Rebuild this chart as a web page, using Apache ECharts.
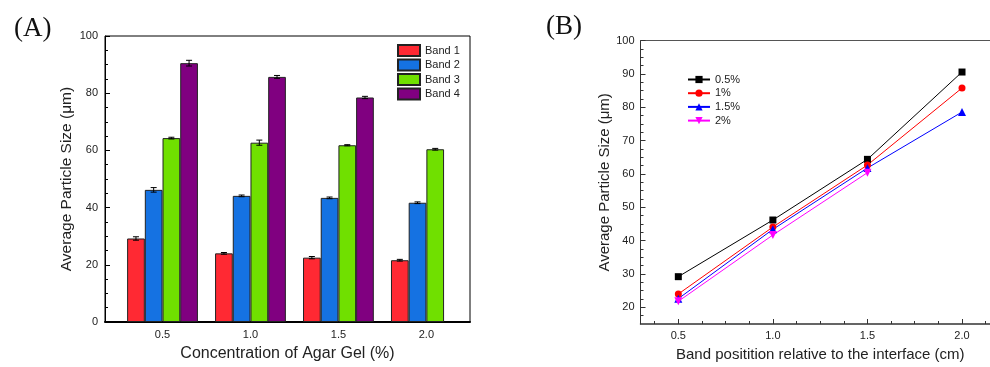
<!DOCTYPE html>
<html>
<head>
<meta charset="utf-8">
<script src="https://cdn.jsdelivr.net/npm/echarts@6/dist/echarts.min.js"></script>
<style>
html,body{margin:0;padding:0;background:#fff;}
#chart{width:990px;height:367px;}
</style>
</head>
<body>
<div id="chart"></div>
<script>
// ---- Data: panel (A) ----
const concentrations = [0.5, 1.0, 1.5, 2.0];
const bandNames = ['Band 1', 'Band 2', 'Band 3', 'Band 4'];
const band1 = [29.2, 24.0, 22.5, 21.6];
const band2 = [46.2, 44.1, 43.4, 41.7];
const band3 = [64.3, 62.7, 61.8, 60.4];
const band4 = [90.5, 85.7, 78.5];
const band1Err = [0.6, 0.3, 0.4, 0.3];
const band2Err = [0.8, 0.3, 0.3, 0.3];
const band3Err = [0.3, 0.9, 0.2, 0.3];
const band4Err = [1.0, 0.5, 0.4];

// ---- Data: panel (B) ----
const positions = [0.5, 1.0, 1.5, 2.0];
const concNames = ['0.5%', '1%', '1.5%', '2%'];
const conc05 = [29.2, 46.2, 64.4, 90.6];
const conc1 = [24.0, 44.1, 62.7, 85.8];
const conc15 = [22.6, 43.4, 61.8, 78.6];
const conc2 = [21.8, 41.7, 60.4];

// ---- Tick labels ----
const xLabelsA = [0.5, 1.0, 1.5, 2.0];
const xLabelsB = [0.5, 1.0, 1.5, 2.0];
const yLabelsB = [20, 30, 40, 50, 60, 70, 80, 90, 100];

const bands = [band1, band2, band3, band4];
const bandErrs = [band1Err, band2Err, band3Err, band4Err];
const bandColors = ['#ff2933', '#1572e2', '#70e000', '#800080'];
const concs = [conc05, conc1, conc15, conc2];
const concColors = ['#000000', '#ff0000', '#0000ff', '#ff00ff'];
const concSymbols = ['rect', 'circle', 'triangle', 'triangle'];
const concRotate = [0, 0, 0, 180];

const BAR_W = 17.7;
const FONT = 'Liberation Sans, Arial, sans-serif';
const TXT = '#222';

function range(a, b, s) { const r = []; for (let v = a; v <= b + 1e-9; v += s) r.push(+v.toFixed(4)); return r; }

const series = [];
bands.forEach((vals, i) => {
  series.push({
    name: bandNames[i], type: 'bar', xAxisIndex: 0, yAxisIndex: 0,
    barWidth: BAR_W, barGap: '0%',
    itemStyle: { color: bandColors[i], borderColor: '#222', borderWidth: 1 },
    data: vals.map((v, j) => [concentrations[j], v])
  });
});
bands.forEach((vals, i) => {
  series.push({
    name: 'err' + i, type: 'custom', xAxisIndex: 0, yAxisIndex: 0, z: 5,
    data: vals.map((v, j) => [concentrations[j], v, bandErrs[i][j]]),
    renderItem: function (params, api) {
      const x = api.value(0), y = api.value(1), e = api.value(2);
      const off = (i - 1.5) * BAR_W;
      const t = api.coord([x, y + e]);
      const b = api.coord([x, y - e]);
      const cx = t[0] + off;
      const cap = 3;
      const st = { stroke: '#000', lineWidth: 1 };
      return { type: 'group', children: [
        { type: 'line', shape: { x1: cx, y1: t[1], x2: cx, y2: b[1] }, style: st },
        { type: 'line', shape: { x1: cx - cap, y1: t[1], x2: cx + cap, y2: t[1] }, style: st },
        { type: 'line', shape: { x1: cx - cap, y1: b[1], x2: cx + cap, y2: b[1] }, style: st }
      ]};
    }
  });
});
concs.forEach((vals, i) => {
  series.push({
    name: concNames[i], type: 'line', xAxisIndex: 1, yAxisIndex: 1,
    symbol: concSymbols[i], symbolRotate: concRotate[i],
    symbolSize: i >= 2 ? 8 : 7,
    lineStyle: { color: concColors[i], width: 1 },
    itemStyle: { color: concColors[i] },
    data: vals.map((v, j) => [positions[j], v])
  });
});

const option = {
  animation: false,
  backgroundColor: '#fff',
  textStyle: { fontFamily: FONT },
  title: [
    { text: '(A)', left: 9, top: 10, textStyle: { fontFamily: 'Liberation Serif, Times New Roman, serif', fontSize: 27, fontWeight: 'normal', color: '#111' } },
    { text: '(B)', left: 541, top: 8, textStyle: { fontFamily: 'Liberation Serif, Times New Roman, serif', fontSize: 27, fontWeight: 'normal', color: '#111' } }
  ],
  legend: [
    { data: bandNames, icon: 'rect', orient: 'vertical', left: 397, top: 44, padding: 0, itemWidth: 22, itemHeight: 11, itemGap: 1.5,
      textStyle: { fontSize: 11, color: TXT, fontFamily: FONT } },
    { data: concNames, orient: 'vertical', left: 687, top: 74, padding: 0, itemWidth: 22, itemHeight: 9, itemGap: 2.7,
      textStyle: { fontSize: 11, color: TXT, fontFamily: FONT } }
  ],
  grid: [
    { left: 105, top: 36, width: 365, height: 288.7, show: true, borderColor: '#000', borderWidth: 1 },
    { left: 640.5, top: 40.7, width: 349.5, height: 285, show: false }
  ],
  xAxis: [
    { type: 'value', gridIndex: 0, min: 0.173, max: 2.248,
      axisLine: { show: true, onZero: false, lineStyle: { color: '#000', width: 2 } },
      axisTick: { show: false }, splitLine: { show: false },
      axisLabel: { customValues: xLabelsA, formatter: v => v.toFixed(1), fontSize: 11, color: TXT, margin: 7 },
      name: 'Concentration of Agar Gel (%)', nameLocation: 'middle', nameGap: 24,
      nameTextStyle: { fontSize: 16, color: TXT } },
    { type: 'value', gridIndex: 1, min: 0.3, max: 2.148,
      axisLine: { show: true, onZero: false, lineStyle: { color: '#333', width: 1.5 } },
      axisTick: { show: true, inside: true, length: 5, customValues: xLabelsB, lineStyle: { color: '#333' } },
      splitLine: { show: false },
      axisLabel: { customValues: xLabelsB, formatter: v => v.toFixed(1), fontSize: 11, color: TXT, margin: 6 },
      name: 'Band positition relative to the interface (cm)', nameLocation: 'middle', nameGap: 23,
      nameTextStyle: { fontSize: 15, color: TXT, padding: [0, 0, 0, 10] } },
    { type: 'value', gridIndex: 1, min: 0.3, max: 2.148, position: 'bottom',
      axisLine: { show: false }, splitLine: { show: false }, axisLabel: { show: false },
      axisTick: { show: true, inside: true, length: 3, customValues: range(0.375, 2.125, 0.125), lineStyle: { color: '#333' } } },
    { type: 'value', gridIndex: 1, min: 0.3, max: 2.148, position: 'top',
      axisLine: { show: true, onZero: false, lineStyle: { color: '#555', width: 1 } },
      splitLine: { show: false }, axisLabel: { show: false }, axisTick: { show: false } }
  ],
  yAxis: [
    { type: 'value', gridIndex: 0, min: 0, max: 100, interval: 20,
      axisLine: { show: true, lineStyle: { color: '#000', width: 1 } },
      axisTick: { show: true, inside: true, length: 5, lineStyle: { color: '#000' } },
      minorTick: { show: true, splitNumber: 4, length: 3, lineStyle: { color: '#000' } },
      splitLine: { show: false },
      axisLabel: { fontSize: 11, color: TXT, margin: 7 },
      name: 'Average Particle Size (μm)', nameLocation: 'middle', nameGap: 30,
      nameTextStyle: { fontSize: 15.5, color: TXT } },
    { type: 'value', gridIndex: 1, min: 15, max: 100,
      axisLine: { show: true, lineStyle: { color: '#333', width: 1 } },
      axisTick: { show: true, inside: true, length: 5, customValues: yLabelsB, lineStyle: { color: '#333' } },
      splitLine: { show: false },
      axisLabel: { customValues: yLabelsB, fontSize: 11, color: TXT, margin: 6 },
      name: 'Average Particle Size (μm)', nameLocation: 'middle', nameGap: 28,
      nameTextStyle: { fontSize: 15, color: TXT } },
    { type: 'value', gridIndex: 1, min: 15, max: 100, position: 'left',
      axisLine: { show: false }, splitLine: { show: false }, axisLabel: { show: false },
      axisTick: { show: true, inside: true, length: 3, customValues: range(17.5, 97.5, 2.5), lineStyle: { color: '#333' } } }
  ],
  series: series
};

const chart = echarts.init(document.getElementById('chart'), null, { renderer: 'canvas' });
chart.setOption(option);
</script>
</body>
</html>
